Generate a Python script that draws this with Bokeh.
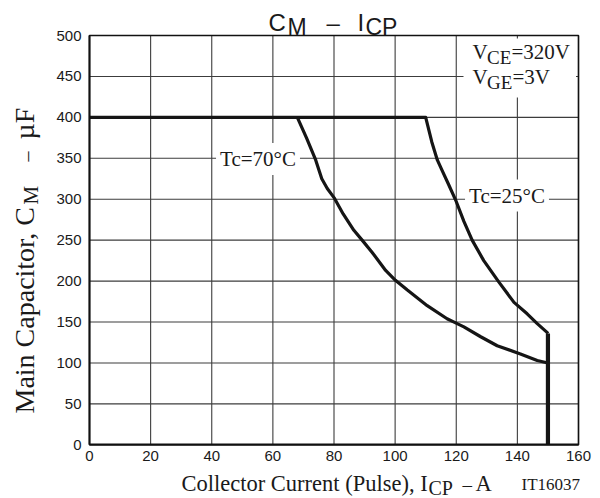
import math
from bokeh.plotting import figure
from bokeh.models import Range1d, Label, BoxAnnotation, FixedTicker
from bokeh.embed import file_html
from bokeh.resources import INLINE

# ---- data ----
x_ticks = [0, 20, 40, 60, 80, 100, 120, 140, 160]
y_ticks = [0, 50, 100, 150, 200, 250, 300, 350, 400, 450, 500]

# Tc = 25 C (including the 400 uF plateau)
x_tc25 = [0, 110, 112, 113.8, 115.4, 117.5, 119.8, 122.5, 125.2, 129, 133.9, 138.9, 143.2, 146.5, 149.8, 150]
y_tc25 = [400, 400, 370, 348, 335, 318, 299, 273, 250, 225, 199, 174, 160, 148, 137, 136]

# Tc = 70 C
x_tc70 = [68, 71, 74, 76, 77.8, 80, 83, 86.5, 89.2, 92.5, 96.9, 100.1, 104, 110.5, 117, 119.8, 122.5, 128, 133.4, 141, 146.5, 150]
y_tc70 = [400, 375, 348, 325, 313, 302, 282, 262, 250, 235, 213, 201, 189, 170, 154, 149, 144, 132, 121, 111, 103, 100]

# current limit at 150 A
x_limit = [150, 150]
y_limit = [136, 0]

SERIF = "Liberation Serif"
SANS = "Liberation Sans"
W, H = 600, 498

# pixel layout of the plot box inside the picture
PX0, PX1 = 89.0, 578.0      # x = 0 and x = 160
PY0, PY1 = 444.3, 35.0      # y = 0 and y = 500
SX = (PX1 - PX0) / (x_ticks[-1] - x_ticks[0])
SY = (PY0 - PY1) / (y_ticks[-1] - y_ticks[0])


def X(px):
    return (px - PX0) / SX


def Y(py):
    return (PY0 - py) / SY


p = figure(width=W, height=H, output_backend="svg", toolbar_location=None,
           x_range=Range1d(X(0), X(W)), y_range=Range1d(Y(H), Y(0)),
           min_border=0, title=None)
p.background_fill_color = "white"
p.border_fill_color = "white"
p.outline_line_color = None
p.xgrid.visible = False
p.ygrid.visible = False

for ax, b in ((p.xaxis[0], (x_ticks[0], x_ticks[-1])), (p.yaxis[0], (y_ticks[0], y_ticks[-1]))):
    ax.fixed_location = 0
    ax.bounds = b
    ax.major_tick_line_color = None
    ax.major_tick_out = 0
    ax.major_tick_in = 0
    ax.minor_tick_line_color = None
    ax.minor_tick_out = 0
    ax.axis_line_color = "#111111"
    ax.axis_line_width = 1.8
    ax.major_label_text_font = SANS
    ax.major_label_text_font_size = "15px"
    ax.major_label_text_color = "#1a1a1a"
p.xaxis[0].ticker = FixedTicker(ticks=x_ticks)
p.yaxis[0].ticker = FixedTicker(ticks=y_ticks)
p.xaxis[0].major_label_standoff = 6
p.yaxis[0].major_label_standoff = 8

# grid lines limited to the plot box
n_x, n_y = len(x_ticks), len(y_ticks)
p.segment(x0=x_ticks, y0=[y_ticks[0]] * n_x, x1=x_ticks, y1=[y_ticks[-1]] * n_x,
          line_color="#3c3c3c", line_width=1.1)
p.segment(x0=[x_ticks[0]] * n_y, y0=y_ticks, x1=[x_ticks[-1]] * n_y, y1=y_ticks,
          line_color="#3c3c3c", line_width=1.1)
# box outline
p.quad(left=x_ticks[0], right=x_ticks[-1], bottom=y_ticks[0], top=y_ticks[-1],
       fill_color=None, line_color="#111111", line_width=1.6)

# white box behind the condition text (above grid, below texts)
p.add_layout(BoxAnnotation(left=X(463), right=X(575.5), bottom=Y(97), top=Y(38),
                           fill_color="white", fill_alpha=1.0, line_color=None, level="guide"))

p.line(x_tc25, y_tc25, line_color="#151515", line_width=3.2, line_join="round")
p.line(x_tc70, y_tc70, line_color="#151515", line_width=3.2, line_join="round")
p.line(x_limit, y_limit, line_color="#151515", line_width=4.2)


def lab(px, py, text, size, font=SERIF, rotated=False, align="left", bg=None, pad=0):
    """Place a text whose baseline starts at picture pixel (px, py) (top-left origin).
    The text is anchored at its vertical middle, which lies k*size above the baseline."""
    k = 0.36 if font == SANS else 0.33
    kw = {}
    if bg is not None:
        kw = dict(background_fill_color=bg, background_fill_alpha=1.0, padding=pad)
    if rotated:
        ax_, ay_, ang = px - k * size, py, math.pi / 2
    else:
        ax_, ay_, ang = px, py - k * size, 0.0
    p.add_layout(Label(x=X(ax_), y=Y(ay_), text=text, text_font=font,
                       text_font_size=f"{size}px", text_color="#1a1a1a", angle=ang,
                       text_align=align, text_baseline="middle", **kw))


# title  C_M - I_CP
lab(268, 31, "C", 24, SANS)
lab(287, 35, "M", 23, SANS)
lab(326, 31, "–", 24, SANS)
lab(357, 31, "I", 24, SANS)
lab(365, 35, "CP", 23, SANS)

# condition text
lab(472, 58, "V", 21)
lab(486.5, 63, "CE", 19)
lab(511, 58, "=320V", 21)
lab(472, 83, "V", 21)
lab(486.5, 88, "GE", 19)
lab(512, 83, "=3V", 21)

# curve labels
lab(257.5, 165.5, "Tc=70°C", 21, align="center", bg="white", pad=4)
lab(506.5, 202, "Tc=25°C", 21, align="center", bg="white", pad=4)

# x axis label
lab(181, 490, "Collector Current (Pulse), I", 22.5)
lab(428, 494, "CP", 20)
lab(462, 490, "–", 19)
lab(475, 490, "A", 22.5)
lab(521, 490, "IT16037", 17)

# y axis label (rotated, reads bottom to top)
lab(33, 413, "Main Capacitor, C", 28, rotated=True)
lab(37, 204, "M", 21, rotated=True)
lab(33, 161, "–", 20, rotated=True)
lab(33, 139, "µF", 28, rotated=True)

open("out.html", "w").write(file_html(p, INLINE))
